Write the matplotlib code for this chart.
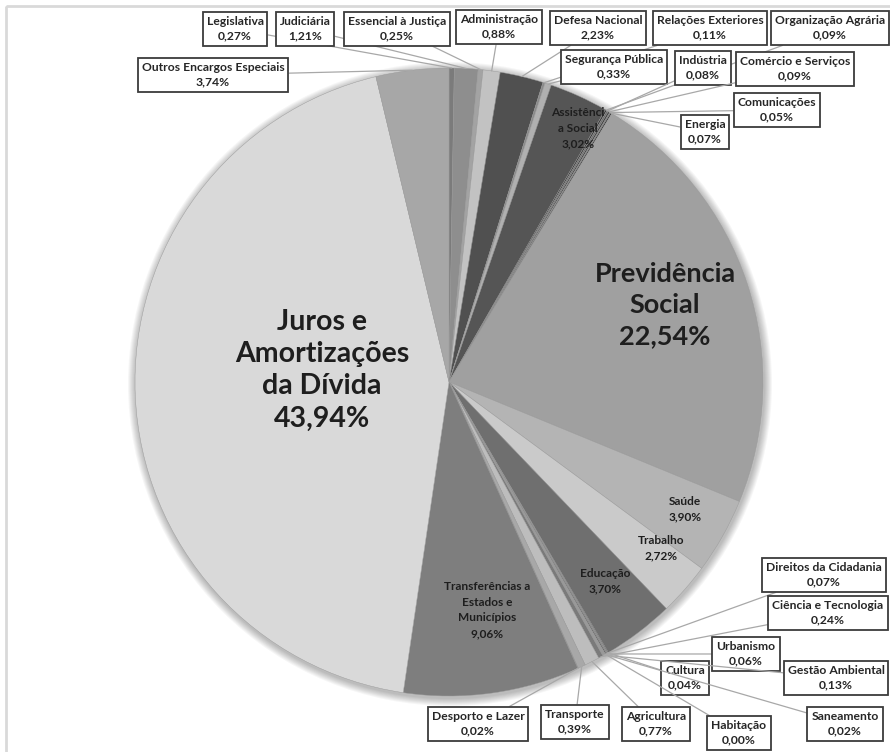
import matplotlib
matplotlib.use("Agg")
import matplotlib.pyplot as plt
from matplotlib.patches import Rectangle, Circle
import numpy as np

plt.rcParams['font.family'] = ['Lato', 'DejaVu Sans']

# ===== DATA =====
funcoes = ["Legislativa", "Judiciária", "Essencial à Justiça", "Administração",
           "Defesa Nacional", "Relações Exteriores", "Segurança Pública",
           "Assistência Social", "Organização Agrária", "Indústria",
           "Comércio e Serviços", "Comunicações", "Energia",
           "Previdência Social", "Saúde", "Trabalho", "Educação",
           "Cultura", "Direitos da Cidadania", "Urbanismo", "Habitação",
           "Saneamento", "Gestão Ambiental", "Ciência e Tecnologia",
           "Agricultura", "Transporte", "Desporto e Lazer",
           "Transferências a Estados e Municípios",
           "Juros e Amortizações da Dívida", "Outros Encargos Especiais"]
valores = [0.27, 1.21, 0.25, 0.88,
           2.23, 0.11, 0.33,
           3.02, 0.09, 0.08,
           0.09, 0.05, 0.07,
           22.54, 3.90, 2.72, 3.70,
           0.04, 0.07, 0.06, 0.00,
           0.02, 0.13, 0.24,
           0.77, 0.39, 0.02,
           9.06,
           43.94, 3.74]
cores = ["#7b7b7b", "#8e8e8e", "#a3a3a3", "#c2c2c2",
         "#505050", "#8a8a8a", "#b0b0b0",
         "#555555", "#3a3a3a", "#6a6a6a",
         "#444444", "#777777", "#333333",
         "#a0a0a0", "#b4b4b4", "#cacaca", "#6f6f6f",
         "#444444", "#888888", "#555555", "#666666",
         "#777777", "#999999", "#7a7a7a",
         "#bdbdbd", "#a8a8a8", "#909090",
         "#7e7e7e",
         "#d9d9d9", "#a7a7a7"]

# ===== LAYOUT (pixel coords, y down) =====
CX, CY, R = 449, 382, 314

# labels inside the pie: position, text, font size, line spacing
internos = {
    "Assistência Social": (578, 128, "Assistênci\na Social", 8.6, 1.55),
    "Previdência Social": (665, 305, "Previdência\nSocial", 19.5, 1.35),
    "Saúde": (685, 509, "Saúde", 8.6, 1.55),
    "Trabalho": (661, 548, "Trabalho", 8.6, 1.55),
    "Educação": (605, 581, "Educação", 8.6, 1.55),
    "Transferências a Estados e Municípios": (487, 610, "Transferências a\nEstados e\nMunicípios", 8.6, 1.55),
    "Juros e Amortizações da Dívida": (322, 370, "Juros e\nAmortizações\nda Dívida", 20.5, 1.3),
}

# boxed labels with leader lines: box centre
caixas = {
    "Legislativa": (235, 29),
    "Judiciária": (305, 29),
    "Essencial à Justiça": (397, 29),
    "Administração": (499, 27),
    "Defesa Nacional": (598, 28),
    "Relações Exteriores": (710, 28),
    "Organização Agrária": (830, 28),
    "Segurança Pública": (614, 67),
    "Indústria": (703, 68),
    "Comércio e Serviços": (795, 69),
    "Comunicações": (777, 110),
    "Energia": (705, 132),
    "Outros Encargos Especiais": (213, 75),
    "Direitos da Cidadania": (824, 575),
    "Ciência e Tecnologia": (828, 613),
    "Urbanismo": (746, 654),
    "Gestão Ambiental": (836, 678),
    "Cultura": (685, 678),
    "Saneamento": (845, 724),
    "Habitação": (739, 733),
    "Agricultura": (656, 724),
    "Transporte": (575, 722),
    "Desporto e Lazer": (478, 724),
}


def pct(v):
    return f"{v:.2f}".replace(".", ",") + "%"


fig = plt.figure(figsize=(8.9, 7.52), dpi=100)
ax = fig.add_axes([0, 0, 1, 1])

# soft shadow around the pie
for k in range(8, 0, -1):
    ax.add_patch(Circle((CX + 1, CY + 2), R + k, color="black",
                        alpha=0.035, lw=0, zorder=0))

wedges, _ = ax.pie(valores, colors=cores, startangle=-90, counterclock=True,
                   center=(CX, CY), radius=R,
                   wedgeprops=dict(linewidth=0.3, edgecolor="#9a9a9a"))

ax.set_xlim(0, 890)
ax.set_ylim(752, 0)
ax.set_aspect("equal")
ax.axis("off")

# chart frame
ax.add_patch(Rectangle((6, 6), 900, 760, fill=False, ec="#d9d9d9", lw=2, zorder=1))

for w, nome, v in zip(wedges, funcoes, valores):
    mid = np.deg2rad((w.theta1 + w.theta2) / 2)
    px = CX + R * np.cos(mid)
    py = CY + R * np.sin(mid)
    if nome in internos:
        x, y, txt, fs, ls = internos[nome]
        ax.text(x, y, txt + "\n" + pct(v), ha="center", va="center",
                fontsize=fs, fontweight="bold", color="#1e1e1e",
                linespacing=ls, zorder=6)
    elif nome in caixas:
        bx, by = caixas[nome]
        ax.annotate(nome + "\n" + pct(v), xy=(px, py), xytext=(bx, by),
                    ha="center", va="center", fontsize=8.7, fontweight="bold",
                    color="#262626", linespacing=1.4, zorder=6,
                    bbox=dict(boxstyle="square,pad=0.33", fc="white",
                              ec="#3c3c3c", lw=1.3),
                    arrowprops=dict(arrowstyle="-", color="#a8a8a8", lw=0.9,
                                    shrinkA=0, shrinkB=0))

plt.savefig("out.png", dpi=100)
